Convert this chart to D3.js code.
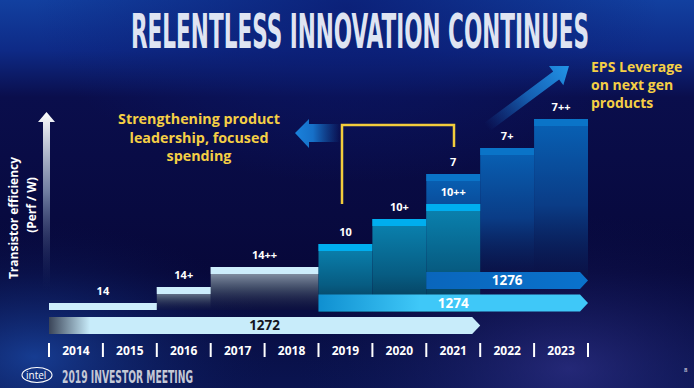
<!DOCTYPE html>
<html>
<head>
<meta charset="utf-8">
<script src="https://cdn.jsdelivr.net/npm/d3@7"></script>
<style>
  html, body { margin: 0; padding: 0; background: #08093a; }
  svg { display: block; }
</style>
</head>
<body>
<div id="chart"></div>
<script>
const W = 694;
const H = 388;

// timeline
const years = ['2014', '2015', '2016', '2017', '2018', '2019', '2020', '2021', '2022', '2023'];

// process nodes (bars)
const nodeNames = ['14', '14+', '14++', '7', '7+', '7++', '10', '10+', '10++'];
const nodeFamily = ['14', '14', '14', '7', '7', '7', '10', '10', '10'];
const nodeStart = ['2014', '2016', '2017', '2021', '2022', '2023', '2019', '2020', '2021'];
const nodeEnd = ['2015', '2016', '2018', '2021', '2022', '2023', '2019', '2020', '2021'];
const nodeLevel = [4.5, 12.5, 22.5, 69, 82, 96.5, 34, 46.5, 54];

// fab processes (arrows)
const processNames = ['1272', '1274', '1276'];
const processStart = ['2014', '2019', '2021'];
const processEnd = ['2021', '2023', '2023'];

const svg = d3.select('#chart').append('svg').attr('width', W).attr('height', H);
const defs = svg.append('defs');

const lin = (id, x1, y1, x2, y2, stops, units) => {
    const g = defs.append('linearGradient').attr('id', id)
        .attr('x1', x1).attr('y1', y1).attr('x2', x2).attr('y2', y2);
    if (units) g.attr('gradientUnits', units);
    stops.forEach(s => g.append('stop').attr('offset', s[0]).attr('stop-color', s[1]).attr('stop-opacity', s[2] === undefined ? 1 : s[2]));
};
const rad = (id, cx, cy, r, stops) => {
    const g = defs.append('radialGradient').attr('id', id).attr('cx', cx).attr('cy', cy).attr('r', r);
    stops.forEach(s => g.append('stop').attr('offset', s[0]).attr('stop-color', s[1]).attr('stop-opacity', s[2] === undefined ? 1 : s[2]));
};

// background
lin('bg', 0, 0, 0, 1, [[0, '#1240a0'], [0.13, '#0e2a86'], [0.25, '#0a0e4c'], [0.7, '#07083a'], [1, '#0a1450']]);
rad('glowL', 0.05, 0.92, 0.35, [[0, '#1c4fb0', 0.7], [1, '#0a1450', 0]]);
rad('glowR', 0.82, 0.95, 0.4, [[0, '#3a3a9a', 0.55], [1, '#0a1450', 0]]);
rad('glowTop', 0.5, 0.02, 0.45, [[0, '#0a1a70', 0.8], [1, '#0a1a70', 0]]);
svg.append('rect').attr('width', W).attr('height', H).attr('fill', 'url(#bg)');
svg.append('rect').attr('width', W).attr('height', H).attr('fill', 'url(#glowTop)');
svg.append('rect').attr('width', W).attr('height', H).attr('fill', 'url(#glowL)');
svg.append('rect').attr('width', W).attr('height', H).attr('fill', 'url(#glowR)');

// title (tall condensed look via vertical stretch)
svg.append('text')
    .attr('transform', 'translate(131,48) scale(1,1.95)')
    .attr('textLength', 458).attr('lengthAdjust', 'spacingAndGlyphs')
    .attr('font-family', '"DejaVu Sans Condensed", "Liberation Sans Narrow", sans-serif')
    .attr('font-weight', 'bold').attr('font-size', 25)
    .attr('fill', '#dfe4f2')
    .text('RELENTLESS INNOVATION CONTINUES');

// scales
const x = d3.scaleBand().domain(years).range([49, 588]);
const y = d3.scaleLinear().domain([0, 100]).range([312, 112]);
const famBottom = { '14': 1, '10': 0, '7': 18 };
const famStrip = { '14': '#cdeefc', '10': '#00aeef', '7': '#0a74c8' };

lin('body14', 0, 0, 0, 1, [[0, '#a4b3c2'], [0.5, '#4c5a70', 0.8], [1, '#1a2040', 0.2]]);
lin('body10', 0, 0, 0, 1, [[0, '#0a84b2'], [0.6, '#075c82'], [1, '#05344f']]);
lin('body7', 0, 0, 0, 1, [[0, '#0862b6'], [0.55, '#0a3c86'], [1, '#0a1448', 0.6]]);

const nodes = nodeNames.map((n, i) => ({
    name: n, fam: nodeFamily[i], x0: x(nodeStart[i]), x1: x(nodeEnd[i]) + x.bandwidth(), level: nodeLevel[i]
}));

const bars = svg.append('g').selectAll('g').data(nodes).enter().append('g');
bars.append('rect')
    .attr('x', d => d.x0).attr('width', d => d.x1 - d.x0)
    .attr('y', d => y(d.level)).attr('height', d => y(famBottom[d.fam]) - y(d.level))
    .attr('fill', d => 'url(#body' + d.fam + ')');
bars.append('rect')
    .attr('x', d => d.x0).attr('width', d => d.x1 - d.x0)
    .attr('y', d => y(d.level)).attr('height', 7)
    .attr('fill', d => famStrip[d.fam]);
bars.append('text')
    .attr('x', d => (d.x0 + d.x1) / 2).attr('y', d => y(d.level) - 8)
    .attr('text-anchor', 'middle')
    .attr('font-family', '"Open Sans", sans-serif').attr('font-weight', 'bold').attr('font-size', 11)
    .attr('fill', '#ffffff')
    .text(d => d.name);

// process arrows
lin('p1272', 49, 0, 90, 0, [[0, '#3a4458'], [1, '#c8ecfa']], 'userSpaceOnUse');
lin('p1274', 318, 0, 420, 0, [[0, '#0f8fd0'], [1, '#3fc8f8']], 'userSpaceOnUse');
lin('p1276', 426, 0, 588, 0, [[0, '#0a66bc'], [1, '#0a72cc']], 'userSpaceOnUse');
const rowY = d3.scaleLinear().domain([0, 2]).range([317, 272]);
const procFill = ['url(#p1272)', 'url(#p1274)', 'url(#p1276)'];
const procText = ['#14141e', '#ffffff', '#ffffff'];
const ah = 17;
const procs = svg.append('g').selectAll('g').data(processNames).enter().append('g');
procs.append('path')
    .attr('d', (d, i) => {
        const a = x(processStart[i]), b = x(processEnd[i]) + x.bandwidth(), t = rowY(i);
        return `M${a},${t}H${b - 8}L${b},${t + ah / 2}L${b - 8},${t + ah}H${a}Z`;
    })
    .attr('fill', (d, i) => procFill[i]);
procs.append('text')
    .attr('x', (d, i) => (x(processStart[i]) + x(processEnd[i]) + x.bandwidth()) / 2)
    .attr('y', (d, i) => rowY(i) + 13)
    .attr('text-anchor', 'middle')
    .attr('font-family', '"Open Sans", sans-serif').attr('font-weight', 'bold').attr('font-size', 13.5)
    .attr('fill', (d, i) => procText[i])
    .text(d => d);

// year axis
const axis = svg.append('g');
axis.selectAll('line').data(years.concat(['end'])).enter().append('line')
    .attr('x1', (d, i) => 49 + i * x.bandwidth()).attr('x2', (d, i) => 49 + i * x.bandwidth())
    .attr('y1', 343).attr('y2', 357)
    .attr('stroke', '#ffffff').attr('stroke-width', 2);
axis.selectAll('text').data(years).enter().append('text')
    .attr('x', d => x(d) + x.bandwidth() / 2).attr('y', 354.5)
    .attr('text-anchor', 'middle')
    .attr('font-family', '"Open Sans", sans-serif').attr('font-weight', 'bold').attr('font-size', 12)
    .attr('fill', '#ffffff')
    .text(d => d);

// y axis arrow
lin('yArrow', 0, 0, 0, 1, [[0, '#ffffff'], [0.45, '#8a9ab8', 0.8], [1, '#1a2a60', 0]]);
svg.append('path')
    .attr('d', 'M46.5,112L55,122H50V290H43V122H38Z')
    .attr('fill', 'url(#yArrow)');
svg.append('text')
    .attr('transform', 'translate(18,218) rotate(-90)')
    .attr('text-anchor', 'middle')
    .attr('font-family', '"Open Sans", sans-serif').attr('font-weight', 'bold').attr('font-size', 12)
    .attr('fill', '#ffffff')
    .text('Transistor efficiency');
svg.append('text')
    .attr('transform', 'translate(36,205) rotate(-90)')
    .attr('text-anchor', 'middle')
    .attr('font-family', '"Open Sans", sans-serif').attr('font-weight', 'bold').attr('font-size', 12)
    .attr('fill', '#ffffff')
    .text('(Perf / W)');

// yellow bracket
svg.append('path')
    .attr('d', 'M342,204V125H454V147')
    .attr('fill', 'none').attr('stroke', '#f2cc3c').attr('stroke-width', 2.5);

// left arrow
lin('leftArrow', 295, 0, 340, 0, [[0, '#1a82dc'], [0.4, '#1670c8'], [1, '#1460b0', 0]], 'userSpaceOnUse');
svg.append('path')
    .attr('d', 'M295,133L309,119V124H340V142H309V148Z')
    .attr('fill', 'url(#leftArrow)');

// diagonal arrow
lin('diagArrow', 0, 0, 1, 0, [[0, '#1a70c8', 0], [0.5, '#1a80d8', 0.7], [1, '#2294e6']]);
const ang = Math.atan2(66 - 127, 569 - 487) * 180 / Math.PI;
const len = Math.hypot(569 - 487, 66 - 127);
svg.append('path')
    .attr('transform', `translate(487,127) rotate(${ang})`)
    .attr('d', `M0,-5H${len - 16}V-12L${len},0L${len - 16},12V5H0Z`)
    .attr('fill', 'url(#diagArrow)');

// yellow notes
const yellow = '#f5cf45';
const noteL = ['Strengthening product', 'leadership, focused', 'spending'];
svg.append('g').selectAll('text').data(noteL).enter().append('text')
    .attr('x', 199).attr('y', (d, i) => 124 + i * 18.5)
    .attr('text-anchor', 'middle')
    .attr('font-family', '"Open Sans", sans-serif').attr('font-weight', 'bold').attr('font-size', 14.3)
    .attr('fill', yellow)
    .text(d => d);
const noteR = ['EPS Leverage', 'on next gen', 'products'];
svg.append('g').selectAll('text').data(noteR).enter().append('text')
    .attr('x', 591).attr('y', (d, i) => 72 + i * 18)
    .attr('font-family', '"Open Sans", sans-serif').attr('font-weight', 'bold').attr('font-size', 14)
    .attr('fill', yellow)
    .text(d => d);

// footer
svg.append('ellipse')
    .attr('cx', 37).attr('cy', 375).attr('rx', 15).attr('ry', 7.5)
    .attr('fill', 'none').attr('stroke', '#ffffff').attr('stroke-width', 1.1);
svg.append('text')
    .attr('x', 26).attr('y', 379)
    .attr('font-family', '"Open Sans", sans-serif').attr('font-size', 10)
    .attr('fill', '#ffffff')
    .text('intel');
svg.append('text')
    .attr('transform', 'translate(62,383) scale(1,1.6)')
    .attr('textLength', 131).attr('lengthAdjust', 'spacingAndGlyphs')
    .attr('font-family', '"DejaVu Sans Condensed", sans-serif').attr('font-weight', 'bold').attr('font-size', 10.5)
    .attr('fill', '#c4c8d6')
    .text('2019 INVESTOR MEETING');
svg.append('text')
    .attr('x', 684).attr('y', 372)
    .attr('font-family', '"Open Sans", sans-serif').attr('font-size', 6)
    .attr('fill', '#ffffff')
    .text('8');
</script>
</body>
</html>
